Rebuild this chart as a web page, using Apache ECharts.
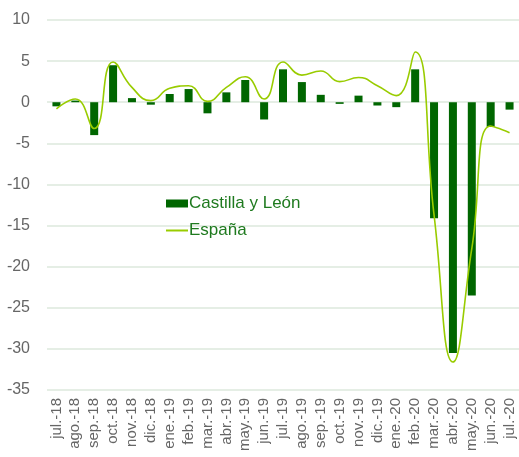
<!DOCTYPE html>
<html>
<head>
<meta charset="utf-8">
<script src="https://cdn.jsdelivr.net/npm/echarts@6/dist/echarts.min.js"></script>
<style>
  html, body { margin: 0; padding: 0; background: #fff; }
  #chart { width: 519px; height: 457px; }
</style>
</head>
<body>
<div id="chart"></div>
<script>
// meses
const months = ['jul.-18', 'ago.-18', 'sep.-18', 'oct.-18', 'nov.-18', 'dic.-18',
  'ene.-19', 'feb.-19', 'mar.-19', 'abr.-19', 'may.-19', 'jun.-19',
  'jul.-19', 'ago.-19', 'sep.-19', 'oct.-19', 'nov.-19', 'dic.-19',
  'ene.-20', 'feb.-20', 'mar.-20', 'abr.-20', 'may.-20', 'jun.-20', 'jul.-20']
// Castilla y León (barras)
const castillaLeon = [-0.5, 0.2, -4.0, 4.5, 0.5, -0.3, 1.0, 1.6, -1.35, 1.2, 2.7, -2.1,
  4.0, 2.45, 0.9, -0.2, 0.8, -0.4, -0.6, 4.0, -14.1, -30.5, -23.5, -3.0, -0.9]
// España (línea)
const espana = [-0.8, 0.4, -3.2, 4.9, 1.8, 0.2, 1.7, 2.0, 0.1, 1.8, 3.1, 0.4,
  4.9, 3.3, 3.8, 2.5, 3.0, 2.0, 0.8, 6.1, -13.7, -31.6, -17.8, -2.9, -3.7]

const chart = echarts.init(document.getElementById('chart'))
chart.setOption({
  animation: false,
  textStyle: { fontFamily: 'Liberation Sans, Arial, sans-serif' },
  grid: { left: 47, top: 20, width: 475, bottom: 67 },
  legend: {
    orient: 'vertical',
    left: 161,
    top: 190,
    itemGap: 10,
    itemWidth: 22,
    itemHeight: 8,
    textStyle: { color: '#1f7a1f', fontSize: 17, padding: [0, 0, 0, -4] },
    data: [
      { name: 'Castilla y León', icon: 'rect' },
      { name: 'España', icon: 'path://M0 0H22V2H0Z' }
    ]
  },
  xAxis: {
    type: 'category',
    data: months,
    axisLine: { show: false },
    axisTick: { show: false },
    axisLabel: { rotate: 90, color: '#666', fontSize: 15, margin: 8, interval: 0 }
  },
  yAxis: {
    type: 'value',
    min: -35,
    max: 10,
    interval: 5,
    axisLabel: { color: '#666', fontSize: 16, margin: 17 },
    splitLine: { lineStyle: { color: '#dde9dd', width: 1.5 } }
  },
  series: [
    {
      name: 'Castilla y León',
      type: 'bar',
      data: castillaLeon,
      barWidth: 8,
      itemStyle: { color: '#006600' }
    },
    {
      name: 'España',
      type: 'line',
      data: espana,
      smooth: 0.5,
      symbol: 'none',
      lineStyle: { color: '#99cc00', width: 1.6 },
      itemStyle: { color: '#99cc00' }
    }
  ]
})
</script>
</body>
</html>
